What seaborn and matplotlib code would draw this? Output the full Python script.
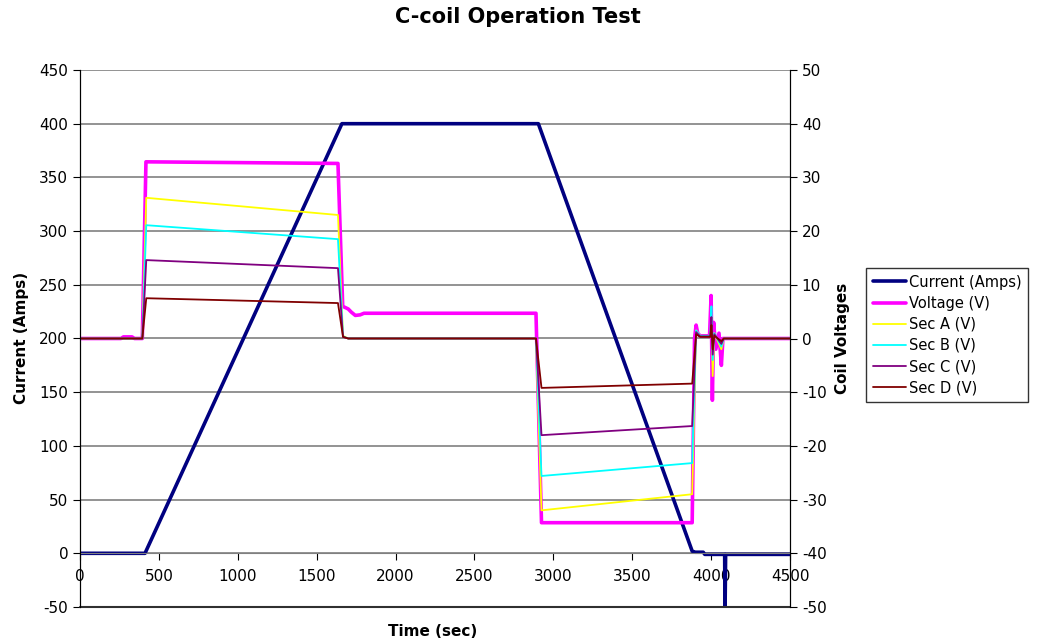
import pandas as pd
import numpy as np
import seaborn as sns
import matplotlib.pyplot as plt

# current (left axis), breakpoints
current_t = [0, 412, 1660, 2905, 3880, 3900, 3950, 3960, 4086, 4088, 4092, 4500]
current_a = [0, 0, 400, 400, 2, 1, 1, -1, -1, -60, -1, -1]

# coil voltages (right axis)
volt_t = [0, 260, 275, 330, 345, 395, 418, 1635, 1665, 1700, 1720, 1745, 1775, 1800,
          2890, 2925, 3880, 3895, 3905, 3915, 3930, 3990, 4000, 4008, 4016, 4030, 4050, 4065, 4075, 4500]
volt_v = [0, 0, 0.3, 0.3, 0, 0, 32.9, 32.6, 6.0, 5.5, 4.9, 4.3, 4.4, 4.7,
          4.7, -34.3, -34.3, 0, 2.5, 1.0, 0.5, 0.5, 8.0, -11.5, 3.0, -2.0, 1.0, -5.0, 0, 0]

sec_t = [0, 395, 420, 1635, 1667, 1700, 2890, 2925, 3880, 3905, 3930, 3995, 4002, 4010, 4020, 4065, 4080, 4500]
sec_a = [0, 0, 26.2, 23.0, 0.5, 0, 0, -32.0, -29.0, 1.5, 0.5, 0.5, 4.0, -7.0, 1.0, -2.0, 0, 0]
sec_b = [0, 0, 21.1, 18.5, 0.4, 0, 0, -25.6, -23.2, 1.5, 0.5, 0.5, 6.0, -4.0, 1.0, -1.5, 0, 0]
sec_c = [0, 0, 14.6, 13.1, 0.3, 0, 0, -18.0, -16.3, 1.2, 0.4, 0.4, 4.0, -3.0, 0.8, -1.0, 0, 0]
sec_d = [0, 0, 7.5, 6.6, 0.3, 0, 0, -9.2, -8.4, 0.8, 0.3, 0.3, 2.5, -2.0, 0.5, -0.5, 0, 0]

x_ticks = [0, 500, 1000, 1500, 2000, 2500, 3000, 3500, 4000, 4500]
left_ticks = [-50, 0, 50, 100, 150, 200, 250, 300, 350, 400, 450]
right_ticks = [-50, -40, -30, -20, -10, 0, 10, 20, 30, 40, 50]

sns.set_style('white')
plt.rcParams['font.family'] = ['DejaVu Sans']
plt.rcParams['axes.unicode_minus'] = False
plt.rcParams['text.color'] = 'black'
plt.rcParams['xtick.color'] = 'black'
plt.rcParams['ytick.color'] = 'black'

fig = plt.figure(figsize=(10.46, 6.42), dpi=100)
ax = fig.add_axes([80/1046, 35/642, 710/1046, 537/642])
ax2 = ax.twinx()

cur = pd.DataFrame({'t': current_t, 'v': current_a})
sns.lineplot(data=cur, x='t', y='v', ax=ax, color='#000080', linewidth=2.6,
             label='Current (Amps)', estimator=None, sort=False, legend=False)

volt = pd.DataFrame({'t': volt_t, 'v': volt_v})
sns.lineplot(data=volt, x='t', y='v', ax=ax2, color='#FF00FF', linewidth=2.6,
             label='Voltage (V)', estimator=None, sort=False, legend=False)

secs = [('Sec A (V)', sec_a, '#FFFF00'), ('Sec B (V)', sec_b, '#00FFFF'),
        ('Sec C (V)', sec_c, '#800080'), ('Sec D (V)', sec_d, '#800000')]
for name, vals, col in secs:
    d = pd.DataFrame({'t': sec_t, 'v': vals})
    sns.lineplot(data=d, x='t', y='v', ax=ax2, color=col, linewidth=1.3,
                 label=name, estimator=None, sort=False, legend=False)

ax.set_xlim(0, 4500)
ax.set_ylim(-50, 450)
ax2.set_ylim(-50, 50)
ax.set_xticks(x_ticks)
ax.set_yticks(left_ticks)
ax2.set_yticks(right_ticks)

ax.grid(axis='y', color='#808080', linewidth=1.2)
ax.grid(axis='x', visible=False)
ax.axhline(-50, color='#303030', linewidth=1.5, clip_on=False)

ax.spines['bottom'].set_position(('data', 0))
ax.spines['bottom'].set_color('#808080')
ax.spines['top'].set_visible(False)
ax2.spines['top'].set_visible(False)
ax2.spines['bottom'].set_visible(False)
for a in (ax, ax2):
    a.spines['left'].set_color('black')
    a.spines['right'].set_color('black')
    a.set_xlabel('')
    a.set_ylabel('')

ax.tick_params(axis='x', direction='out', length=5, color='black', labelsize=11, pad=6,
               bottom=True)
ax.tick_params(axis='y', direction='out', length=5, color='black', labelsize=11, left=True)
ax2.tick_params(axis='y', direction='out', length=5, color='black', labelsize=11, right=True)

fig.suptitle('C-coil Operation Test', x=518/1046, y=1-17/642, fontsize=15,
             fontweight='bold', va='center', color='black')
fig.text(433/1046, 1-632/642, 'Time (sec)', ha='center', va='center',
         fontsize=11, fontweight='bold')
fig.text(22/1046, 1-338/642, 'Current (Amps)', ha='center', va='center',
         rotation=90, fontsize=11, fontweight='bold')
fig.text(843/1046, 1-338/642, 'Coil Voltages', ha='center', va='center',
         rotation=90, fontsize=11, fontweight='bold')

h1, l1 = ax.get_legend_handles_labels()
h2, l2 = ax2.get_legend_handles_labels()
leg = fig.legend(h1 + h2, l1 + l2, loc='upper left',
                 bbox_to_anchor=(866/1046, 1-268/642), fontsize=10.5,
                 frameon=True, fancybox=False, edgecolor='black',
                 handlelength=2.3, handletextpad=0.2, labelspacing=0.42,
                 borderpad=0.45, borderaxespad=0)
leg.get_frame().set_linewidth(1.0)

fig.savefig('out.png', dpi=100)
